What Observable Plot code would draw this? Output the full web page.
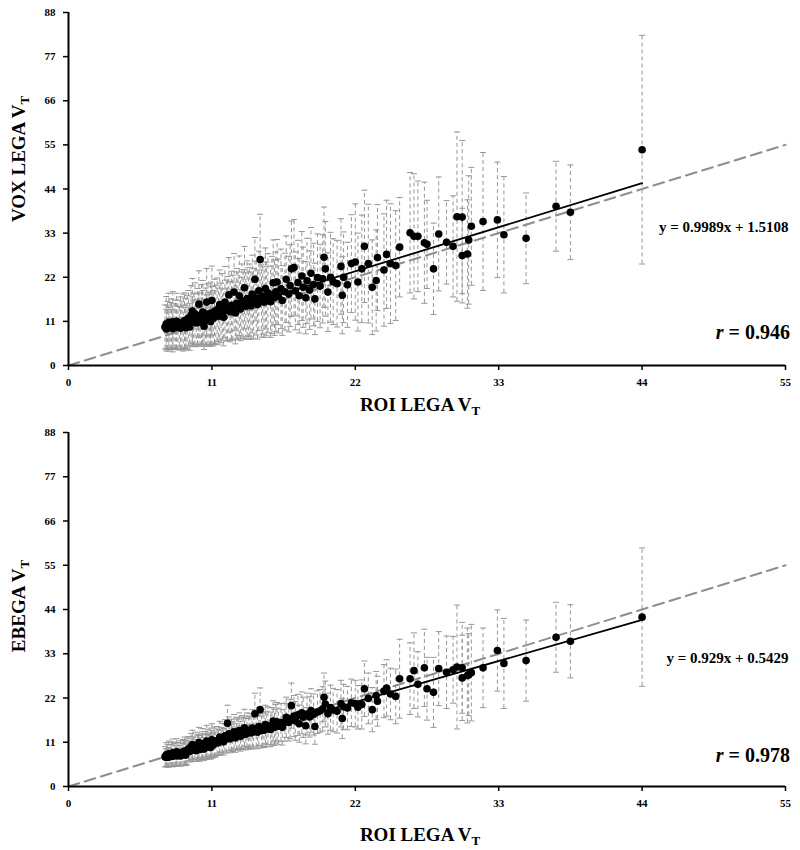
<!DOCTYPE html>
<html><head><meta charset="utf-8">
<script src="https://cdn.jsdelivr.net/npm/d3@7"></script>
<script src="https://cdn.jsdelivr.net/npm/@observablehq/plot@0.6"></script>
<style>
body{margin:0;background:#fff;}
#chart svg{display:block;overflow:visible;}
</style></head><body><div id="chart"></div>
<script>
// ROI LEGA VT (x, shared by both panels)
const roiX = [
  7.4,7.5,7.5,7.6,7.7,7.7,7.8,7.9,8.0,8.0,8.1,8.2,8.3,8.3,8.4,8.5,8.6,8.6,8.7,8.8,8.9,8.9,9.0,9.0,9.1,
  9.2,9.3,9.4,9.5,9.5,9.6,9.7,9.8,9.9,10.0,10.0,10.1,10.2,10.3,10.3,10.4,10.5,10.6,10.6,10.7,10.8,10.9,10.9,11.0,11.0,11.1,11.2,11.3,
  11.4,11.5,11.6,11.7,11.8,11.9,12.0,12.1,12.2,12.3,12.4,12.5,12.6,12.7,12.8,12.9,13.0,13.1,13.2,13.3,13.4,13.5,13.6,13.7,13.8,
  13.9,14.0,14.1,14.2,14.3,14.4,14.5,14.6,14.7,14.8,14.9,15.0,15.1,15.2,15.3,15.5,15.6,15.7,15.8,15.9,
  16.0,16.1,16.3,16.4,16.6,16.7,16.9,17.0,17.1,17.3,17.4,17.6,17.7,17.9,18.0,18.2,18.3,18.5,18.6,18.8,18.9,19.1,
  19.3,19.5,19.6,19.7,19.9,20.1,20.3,20.6,20.9,21.0,21.1,21.4,21.7,
  22.0,22.2,22.5,22.7,23.0,23.3,23.6,23.7,24.2,24.4,24.7,25.1,25.4,26.2,26.5,26.8,27.3,27.5,28.0,28.4,29.0,29.5,29.8,30.2,30.2,30.6,30.7,30.9,31.8,32.9,33.4,35.1,37.4,38.5,44.0
];
// VOX LEGA VT (top panel) and its error
const voxY = [
  9.6,10.4,9.1,10.0,10.8,9.4,9.9,10.3,9.2,10.9,9.8,10.2,9.5,11.0,10.1,9.7,10.5,9.3,10.0,10.7,9.6,11.2,10.3,9.4,10.8,
  11.8,9.6,12.5,10.9,13.6,11.4,12.9,10.6,12.2,11.5,15.3,10.8,12.7,11.9,13.3,9.8,12.1,11.2,15.8,12.8,11.6,13.0,10.9,12.4,16.2,11.8,13.5,12.6,
  13.9,12.3,15.2,13.1,14.6,12.0,15.8,13.7,14.2,17.6,13.4,15.0,14.4,18.3,13.1,15.5,14.9,17.4,14.1,16.2,15.3,19.4,14.8,16.7,15.6,
  16.3,14.9,17.8,15.5,21.5,16.8,15.2,18.6,26.4,16.1,17.3,15.8,19.2,16.6,18.1,15.9,17.6,20.6,16.9,18.4,
  20.8,17.3,19.1,16.2,18.4,21.5,17.8,19.9,24.1,24.4,18.6,20.7,17.4,22.3,19.5,16.9,21.1,18.8,23.0,20.2,16.6,21.9,
  19.8,21.6,27.0,24.1,18.3,22.0,20.9,20.4,24.7,17.5,22.0,20.1,25.4,
  25.8,20.8,24.1,29.7,25.4,19.5,21.2,26.9,23.8,27.7,25.4,24.9,29.5,33.1,32.2,32.2,30.6,30.2,24.1,32.8,30.7,29.7,37.1,37.0,27.4,27.8,31.3,34.7,35.9,36.3,32.6,31.7,39.7,38.2,53.8
];
const voxErr = [
  5.5,6.8,4.9,6.0,7.2,5.1,5.8,6.3,4.8,7.5,5.6,6.1,5.3,7.0,6.2,5.0,6.6,5.2,5.9,7.1,5.4,6.9,6.4,5.0,6.7,
  6.9,5.8,7.4,6.2,8.1,6.5,7.7,5.9,7.0,6.6,8.3,6.0,7.5,6.8,7.9,5.8,7.2,6.4,8.4,7.6,6.7,7.8,6.1,7.3,8.6,6.9,8.0,7.4,
  7.9,7.0,8.6,7.4,8.3,7.1,8.9,7.6,8.0,9.3,7.5,8.5,8.1,9.6,7.7,8.7,8.4,9.9,7.9,9.1,8.6,10.3,8.3,9.4,8.8,
  9.0,8.4,9.7,8.7,10.4,9.2,8.6,9.9,11.3,9.0,9.5,8.8,10.1,9.2,9.8,8.9,9.6,10.7,9.4,9.9,
  10.6,9.2,9.9,8.7,9.6,10.8,9.4,10.2,11.9,12.0,9.7,10.5,9.3,11.1,10.0,9.0,10.6,9.8,11.4,10.3,8.9,10.9,
  10.4,11.0,12.5,11.8,9.8,11.2,10.7,10.8,11.9,9.6,11.3,10.6,12.2,
  14.5,12.2,13.4,14.0,14.8,11.8,12.6,13.2,14.0,13.5,14.9,13.7,12.4,15.0,15.6,13.8,15.1,11.0,11.4,14.2,10.4,12.6,21.1,19.1,11.8,13.5,16.0,14.7,17.2,14.4,14.5,11.3,11.2,11.8,28.5
];
// EBEGA VT (bottom panel) and its error
const ebegaY = [
  7.4,7.9,7.2,7.6,8.1,7.3,7.7,8.0,7.5,8.4,7.8,8.1,7.6,8.6,8.0,7.7,8.3,7.6,8.0,8.5,7.9,8.8,8.4,7.8,8.7,
  9.4,8.7,9.9,9.0,10.4,9.3,10.1,8.9,9.8,9.6,10.9,9.2,10.2,9.9,10.7,9.3,10.4,9.8,11.3,10.6,10.1,10.9,9.7,10.5,11.6,10.3,11.1,10.8,
  11.4,10.9,12.3,11.3,12.0,11.1,12.6,11.8,15.7,13.1,11.9,12.8,12.4,13.6,12.1,13.2,12.9,13.9,12.5,13.5,13.2,14.6,13.0,14.0,13.4,
  13.8,13.3,14.5,13.6,18.1,14.2,13.5,14.9,19.1,13.9,14.6,14.0,15.4,14.3,15.1,14.2,15.0,16.3,14.7,15.6,
  16.1,15.0,15.9,14.7,16.0,17.2,15.9,16.8,20.1,17.5,16.3,17.8,15.6,18.3,17.2,15.1,18.0,17.3,18.9,17.9,14.9,18.5,
  18.8,19.3,22.2,20.5,18.1,19.6,19.0,18.7,20.6,16.9,19.8,19.5,20.8,
  20.6,19.7,20.4,24.3,21.9,19.1,22.6,21.2,23.7,24.5,23.0,22.4,26.8,26.8,28.8,25.4,29.5,24.3,23.4,29.3,28.4,29.0,29.7,29.5,27.0,27.6,27.8,28.3,29.5,33.8,30.6,31.3,37.1,36.1,42.1
];
const ebegaErr = [
  2.5,3.0,2.2,2.8,3.2,2.4,2.7,3.0,2.6,3.4,2.8,2.9,2.5,3.3,2.9,2.6,3.1,2.5,2.8,3.2,2.7,3.5,3.0,2.6,3.3,
  3.0,2.6,3.3,2.8,3.6,3.0,3.4,2.7,3.2,3.1,3.8,2.9,3.4,3.2,3.7,2.8,3.3,3.1,3.9,3.5,3.2,3.6,2.9,3.4,4.0,3.2,3.7,3.5,
  3.5,3.2,3.9,3.4,3.7,3.3,4.0,3.5,4.5,4.2,3.5,3.9,3.7,4.3,3.6,4.0,3.9,4.4,3.7,4.1,4.0,4.6,3.9,4.3,4.1,
  4.3,4.0,4.6,4.2,5.1,4.4,4.1,4.7,5.4,4.3,4.6,4.3,4.8,4.4,4.7,4.3,4.6,5.0,4.5,4.8,
  4.8,4.5,4.7,4.4,4.7,5.0,4.6,4.9,5.6,5.1,4.8,5.1,4.6,5.2,5.0,4.5,5.2,5.0,5.4,5.1,4.4,5.3,
  5.3,5.5,6.0,5.7,5.1,5.6,5.4,5.4,5.8,5.0,5.6,5.4,5.9,
  5.8,5.4,6.1,6.9,6.3,5.5,6.0,6.2,6.6,7.0,6.4,6.8,9.8,8.9,9.4,8.1,9.6,7.8,8.7,9.2,9.0,8.3,15.4,11.3,10.6,11.8,10.2,12.0,9.9,10.1,11.2,10.1,8.7,9.1,17.2
];
const xTicks = [0, 11, 22, 33, 44, 55];
const yTicks = [0, 11, 22, 33, 44, 55, 66, 77, 88];
const identityLine = [{x: 0, y: 0}, {x: 55, y: 55}];
const fitRange = [7.4, 44];
const voxFit = {slope: 0.9989, intercept: 1.5108, r: "0.946"};
const ebegaFit = {slope: 0.929, intercept: 0.5429, r: "0.978"};

[voxY, voxErr, ebegaY, ebegaErr].forEach(a => { if (a.length !== roiX.length) throw new Error("length mismatch " + a.length + " vs " + roiX.length); });

const FONT = "'Liberation Serif', 'Times New Roman', serif";
const capSymbol = {draw(ctx, size) { const w = Math.sqrt(size / Math.PI); ctx.moveTo(-w, 0); ctx.lineTo(w, 0); }};

function panel(opts) {
  const {yVals, errVals, fit, yLabel, height, marginBottom, yTitleY, eqY, rY} = opts;
  const rows = roiX.map((x, i) => ({x, y: yVals[i], lo: yVals[i] - errVals[i], hi: yVals[i] + errVals[i]}));
  const fitLine = fitRange.map(x => ({x, y: fit.slope * x + fit.intercept}));
  const svg = Plot.plot({
    width: 800, height, marginTop: 12, marginLeft: 68, marginRight: 15, marginBottom,
    x: {domain: [0, 55]},
    y: {domain: [0, 88]},
    style: {fontFamily: FONT, background: "#fff", color: "#000", overflow: "visible"},
    marks: [
      Plot.ruleX(rows, {x: "x", y1: "lo", y2: "hi", stroke: "#969696", strokeWidth: 1, strokeDasharray: "4,3"}),
      Plot.dot(rows, {x: "x", y: "lo", symbol: capSymbol, r: 3, fill: "none", stroke: "#969696", strokeWidth: 1}),
      Plot.dot(rows, {x: "x", y: "hi", symbol: capSymbol, r: 3, fill: "none", stroke: "#969696", strokeWidth: 1}),
      Plot.line(identityLine, {x: "x", y: "y", stroke: "#8e8e8e", strokeWidth: 2, strokeDasharray: "11,6"}),
      Plot.line(fitLine, {x: "x", y: "y", stroke: "#000", strokeWidth: 1.8}),
      Plot.dot(rows, {x: "x", y: "y", r: 3.8, fill: "#000", stroke: "none"}),
      Plot.ruleY([0], {stroke: "#000", strokeWidth: 2}),
      Plot.ruleX([0], {stroke: "#000", strokeWidth: 2}),
      Plot.axisX({ticks: xTicks, tickSize: 5, tickPadding: 8, strokeWidth: 1.5, fontSize: 11, fontWeight: "bold", label: null}),
      Plot.axisY({ticks: yTicks, tickSize: 5, tickPadding: 8, strokeWidth: 1.5, fontSize: 11, fontWeight: "bold", label: null}),
      Plot.text([`y = ${fit.slope}x + ${fit.intercept}`], {x: 55, y: eqY, text: d => d, textAnchor: "end", dx: 3, fontSize: 15, fontWeight: "bold", fill: "#000"})
    ]
  });
  const sx = svg.scale("x"), sy = svg.scale("y");
  const s = d3.select(svg);
  // r annotation
  const rt = s.append("text").attr("x", sx.apply(55) + 5).attr("y", sy.apply(rY)).attr("dy", "0.35em")
    .attr("text-anchor", "end").attr("font-size", 20).attr("font-weight", "bold").attr("fill", "#000");
  rt.append("tspan").attr("font-style", "italic").text("r");
  rt.append("tspan").text(" = " + fit.r);
  // x title
  const xt = s.append("text").attr("x", 420).attr("y", height - 9).attr("text-anchor", "middle")
    .attr("font-size", 19).attr("font-weight", "bold").attr("fill", "#000");
  xt.append("tspan").text("ROI LEGA V");
  xt.append("tspan").attr("font-size", 13).attr("dy", 4).text("T");
  // y title
  const yt = s.append("text").attr("transform", `translate(25,${yTitleY}) rotate(-90)`).attr("text-anchor", "middle")
    .attr("font-size", 19).attr("font-weight", "bold").attr("fill", "#000");
  yt.append("tspan").text(yLabel);
  yt.append("tspan").attr("font-size", 13).attr("dy", 4).text("T");
  return svg;
}

const root = document.getElementById("chart");
root.append(panel({yVals: voxY, errVals: voxErr, fit: voxFit, yLabel: "VOX LEGA V", height: 420, marginBottom: 55, yTitleY: 159, eqY: 34.4, rY: 8.2}));
root.append(panel({yVals: ebegaY, errVals: ebegaErr, fit: ebegaFit, yLabel: "EBEGA V", height: 430, marginBottom: 64, yTitleY: 186, eqY: 31.8, rY: 7.7}));
</script></body></html>
